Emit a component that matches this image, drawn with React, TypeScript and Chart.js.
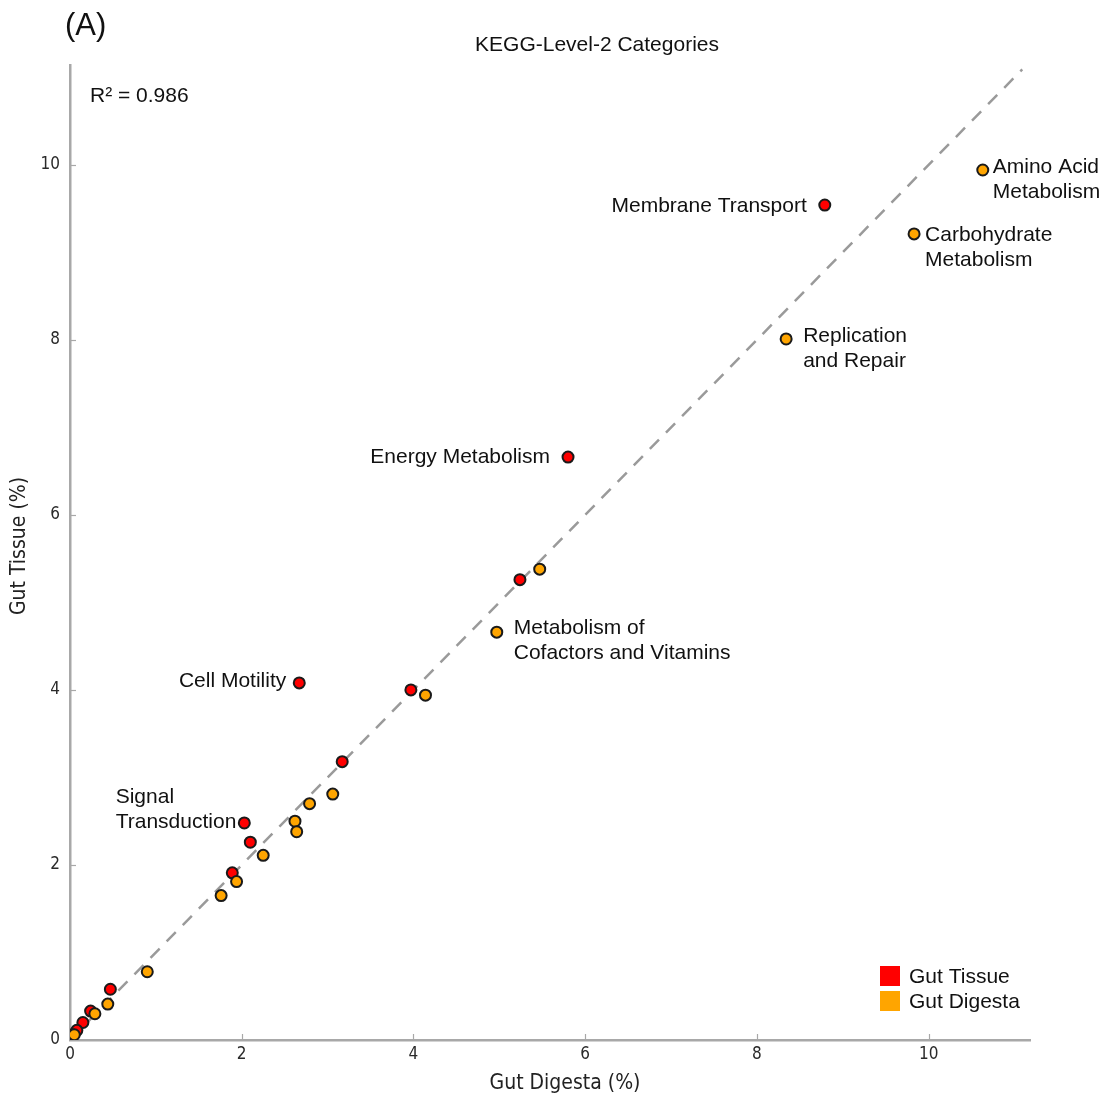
import React, { useEffect, useRef } from 'react';
import { Chart, registerables } from 'chart.js';

Chart.register(...registerables);

// ---- Data ----
const tissueX = [8.79, 5.8, 5.24, 3.97, 2.67, 3.17, 2.03, 2.1, 1.89, 0.47, 0.24, 0.15, 0.08, 0.03, 0.01];
const tissueY = [9.54, 6.66, 5.26, 4.0, 4.08, 3.18, 2.48, 2.26, 1.91, 0.58, 0.33, 0.2, 0.11, 0.06, 0.03];

const digestaX = [10.63, 9.83, 8.34, 5.47, 4.97, 4.14, 3.06, 2.79, 2.62, 2.64, 2.25, 1.94, 1.76, 0.9, 0.44, 0.29, 0.05];
const digestaY = [9.94, 9.21, 8.01, 5.38, 4.66, 3.94, 2.81, 2.7, 2.5, 2.38, 2.11, 1.81, 1.65, 0.78, 0.41, 0.3, 0.06];

const xTickValues = [0, 2, 4, 6, 8, 10];
const yTickValues = [0, 2, 4, 6, 8, 10];
const axisMaxX = 11.18;
const axisMaxY = 11.14;
const refLineEnd = 11.09;

const seriesNames = ['Gut Tissue', 'Gut Digesta'];
const chartTitle = 'KEGG-Level-2 Categories';
const panelLabel = '(A)';
const r2Text = 'R\u00B2 = 0.986';
const xAxisTitle = 'Gut Digesta (%)';
const yAxisTitle = 'Gut Tissue (%)';

// annotations: which series (0 tissue, 1 digesta), point index, text lines
const annoSeries = [1, 1, 1, 0, 0, 1, 0, 0];
const annoIndex = [0, 1, 2, 0, 1, 4, 4, 6];
const annoLines = [
  ['Amino Acid', 'Metabolism'],
  ['Carbohydrate', 'Metabolism'],
  ['Replication', 'and Repair'],
  ['Membrane Transport'],
  ['Energy Metabolism'],
  ['Metabolism of', 'Cofactors and Vitamins'],
  ['Cell Motility'],
  ['Signal', 'Transduction'],
];

// ---- Styles / placement (pixel offsets from each anchor point) ----
const annoPlacement = [
  { align: 'left', dx: 10, dy: -3 },
  { align: 'left', dx: 11, dy: 1 },
  { align: 'left', dx: 17, dy: -3 },
  { align: 'right', dx: -18, dy: 1 },
  { align: 'right', dx: -18, dy: 0 },
  { align: 'left', dx: 17, dy: -4 },
  { align: 'right', dx: -13, dy: -2 },
  { align: 'blockRight', dx: -8, dy: -26 },
];

const TEXT_FONT = '"Liberation Sans", Arial, sans-serif';
const AXIS_FONT = '"DejaVu Sans Condensed", "Liberation Sans Narrow", "DejaVu Sans", sans-serif';
const RED = '#ff0000';
const ORANGE = '#ffa500';
const AXIS_COLOR = '#a8a8a8';

const overlayPlugin = {
  id: 'overlay',
  afterDatasetsDraw(chart: any) {
    const ctx = chart.ctx;
    const { left, bottom } = chart.chartArea;
    const xs = chart.scales.x;
    const ys = chart.scales.y;
    ctx.save();
    // inner tick marks
    ctx.strokeStyle = AXIS_COLOR;
    ctx.lineWidth = 1.2;
    xTickValues.forEach((v) => {
      if (v === 0) return;
      const px = Math.round(xs.getPixelForValue(v)) + 0.5;
      ctx.beginPath();
      ctx.moveTo(px, bottom);
      ctx.lineTo(px, bottom - 6);
      ctx.stroke();
    });
    yTickValues.forEach((v) => {
      if (v === 0) return;
      const py = Math.round(ys.getPixelForValue(v)) + 0.5;
      ctx.beginPath();
      ctx.moveTo(left, py);
      ctx.lineTo(left + 6, py);
      ctx.stroke();
    });

    // annotations
    ctx.fillStyle = '#111';
    ctx.font = `21px ${TEXT_FONT}`;
    ctx.textBaseline = 'middle';
    const lh = 25;
    annoLines.forEach((lines, i) => {
      const meta = chart.getDatasetMeta(annoSeries[i]);
      const el = meta.data[annoIndex[i]];
      if (!el) return;
      const p = annoPlacement[i];
      const ax = el.x + p.dx;
      const ay = el.y + p.dy;
      if (p.align === 'blockRight') {
        const w = Math.max(...lines.map((l) => ctx.measureText(l).width));
        ctx.textAlign = 'left';
        lines.forEach((l, k) => ctx.fillText(l, ax - w, ay + k * lh));
      } else {
        ctx.textAlign = p.align as CanvasTextAlign;
        lines.forEach((l, k) => ctx.fillText(l, ax, ay + k * lh));
      }
    });

    // R^2
    ctx.textAlign = 'left';
    ctx.fillText(r2Text, 90, 96);

    // title
    ctx.font = `21px ${TEXT_FONT}`;
    ctx.textAlign = 'center';
    ctx.fillText(chartTitle, 597, 45);

    // panel label
    ctx.font = `31px ${TEXT_FONT}`;
    ctx.textAlign = 'left';
    ctx.fillText(panelLabel, 65, 26);

    // legend
    const colors = [RED, ORANGE];
    ctx.font = `21px ${TEXT_FONT}`;
    seriesNames.forEach((name, k) => {
      const y = 966 + k * 25;
      ctx.fillStyle = colors[k];
      ctx.fillRect(880, y, 20, 20);
      ctx.fillStyle = '#111';
      ctx.textAlign = 'left';
      ctx.fillText(name, 909, y + 11);
    });

    // axis titles
    ctx.fillStyle = '#222';
    ctx.font = `21px ${AXIS_FONT}`;
    ctx.textAlign = 'center';
    ctx.fillText(xAxisTitle, 565, 1084);
    ctx.save();
    ctx.translate(20, 546);
    ctx.rotate(-Math.PI / 2);
    ctx.fillText(yAxisTitle, 0, 0);
    ctx.restore();

    ctx.restore();
  },
};

export default function App() {
  const ref = useRef<HTMLCanvasElement | null>(null);
  useEffect(() => {
    if (!ref.current) return;
    const pointStyle = (color: string) => ({
      backgroundColor: color,
      borderColor: '#1a1a1a',
      borderWidth: 2,
      pointRadius: 5.5,
      pointHoverRadius: 5.5,
    });
    const chart = new Chart(ref.current, {
      type: 'scatter',
      data: {
        datasets: [
          {
            label: seriesNames[0],
            data: tissueX.map((x, i) => ({ x, y: tissueY[i] })),
            order: 2,
            ...pointStyle(RED),
          } as any,
          {
            label: seriesNames[1],
            data: digestaX.map((x, i) => ({ x, y: digestaY[i] })),
            order: 1,
            ...pointStyle(ORANGE),
          } as any,
          {
            type: 'line',
            label: 'y = x',
            data: [
              { x: 0, y: 0 },
              { x: refLineEnd, y: refLineEnd },
            ],
            borderColor: '#9a9a9a',
            borderWidth: 2.5,
            borderDash: [13, 10],
            pointRadius: 0,
            fill: false,
            order: 10,
          } as any,
        ],
      },
      options: {
        responsive: false,
        animation: false,
        layout: { padding: { left: 0, top: 65, right: 77, bottom: 0 } },
        plugins: { legend: { display: false }, tooltip: { enabled: false }, title: { display: false } },
        scales: {
          x: {
            type: 'linear',
            min: 0,
            max: axisMaxX,
            afterFit: (s: any) => {
              s.height = 58;
            },
            afterBuildTicks: (s: any) => {
              s.ticks = xTickValues.map((v) => ({ value: v }));
            },
            grid: { display: false, drawTicks: false },
            border: { display: true, color: AXIS_COLOR, width: 2.5 },
            ticks: {
              padding: 4,
              color: '#2a2a2a',
              font: { family: AXIS_FONT, size: 17 },
              maxRotation: 0,
            },
          },
          y: {
            type: 'linear',
            min: 0,
            max: axisMaxY,
            afterFit: (s: any) => {
              s.width = 70;
            },
            afterBuildTicks: (s: any) => {
              s.ticks = yTickValues.map((v) => ({ value: v }));
            },
            grid: { display: false, drawTicks: false },
            border: { display: true, color: AXIS_COLOR, width: 2.5 },
            ticks: {
              padding: 10,
              color: '#2a2a2a',
              font: { family: AXIS_FONT, size: 17 },
            },
          },
        },
      },
      plugins: [overlayPlugin],
    });
    return () => chart.destroy();
  }, []);
  return (
    <div style={{ position: 'absolute', left: 0, top: 0, width: 1107, height: 1098, background: '#fff' }}>
      <canvas ref={ref} width={1107} height={1098} style={{ display: 'block' }} />
    </div>
  );
}
